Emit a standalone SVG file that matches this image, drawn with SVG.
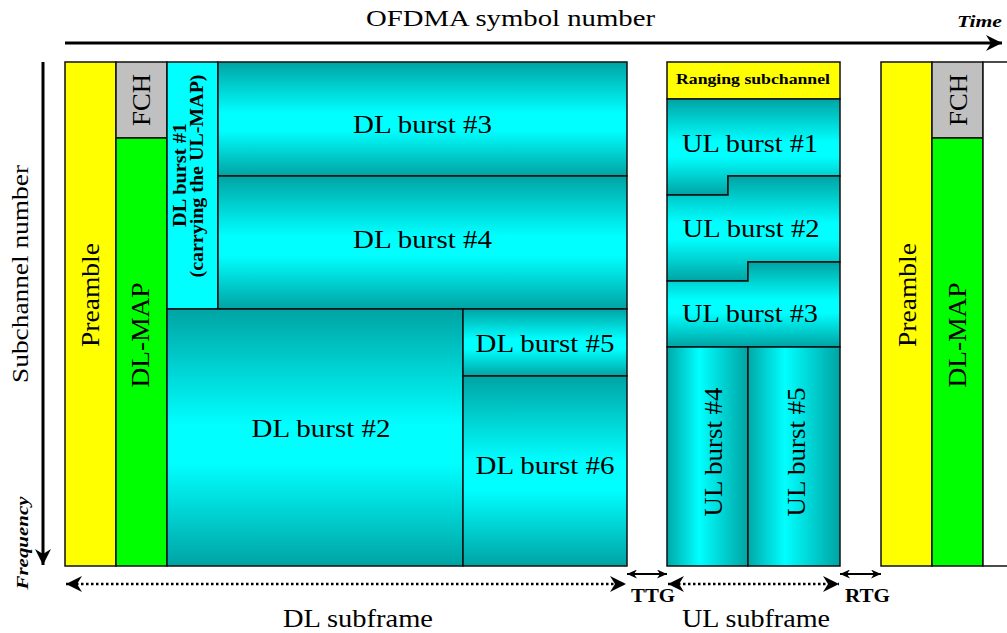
<svg xmlns="http://www.w3.org/2000/svg" width="1007" height="633" viewBox="0 0 1007 633">
  <defs>
    <linearGradient id="gV" x1="0" y1="0" x2="0" y2="1">
      <stop offset="0" stop-color="#00A3A3"/>
      <stop offset="0.45" stop-color="#00FFFF"/>
      <stop offset="0.6" stop-color="#00FFFF"/>
      <stop offset="1" stop-color="#00A3A3"/>
    </linearGradient>
    <linearGradient id="gH" x1="0" y1="0" x2="1" y2="0">
      <stop offset="0" stop-color="#00A8A8"/>
      <stop offset="0.4" stop-color="#00FFFF"/>
      <stop offset="1" stop-color="#00A3A3"/>
    </linearGradient>
    <marker id="headBig" viewBox="0 0 16 16" refX="16" refY="8" markerWidth="16" markerHeight="16" markerUnits="userSpaceOnUse" orient="auto-start-reverse">
      <path d="M0,0 L16,8 L0,16 L5,8 Z" fill="#000"/>
    </marker>
    <marker id="headSmall" viewBox="0 0 10 9" refX="10" refY="4.5" markerWidth="10" markerHeight="9" markerUnits="userSpaceOnUse" orient="auto-start-reverse">
      <path d="M0,0 L10,4.5 L0,9 L3,4.5 Z" fill="#000"/>
    </marker>
    <style>
      .cell { stroke: #111; stroke-width: 1.5; }
      .pre { fill: #FFFF00; }
      .fch { fill: #C0C0C0; }
      .map { fill: #00FF00; }
      .flat { fill: #00FFFF; }
      .gv { fill: url(#gV); }
      .gh { fill: url(#gH); }
      .t { font-family: "Liberation Serif", "Times New Roman", serif; fill: #000; }
      .big { font-size: 26px; }
      .b { font-weight: bold; }
      .bi { font-weight: bold; font-style: italic; }
      .mid { text-anchor: middle; }
      .axis { stroke: #000; stroke-width: 3; fill: none; }
      .dot { stroke: #000; stroke-width: 2.5; stroke-dasharray: 2.5 2.5; fill: none; }
      .gap { stroke: #000; stroke-width: 2; fill: none; }
    </style>
  </defs>

  <!-- axes and axis titles -->
  <g id="axes">
    <line class="axis" x1="65" y1="43" x2="1002" y2="43" marker-end="url(#headBig)"/>
    <line class="axis" x1="43" y1="62" x2="43" y2="565" marker-end="url(#headBig)"/>
    <text class="t mid" x="510.5" y="26" font-size="24" textLength="289" lengthAdjust="spacingAndGlyphs">OFDMA symbol number</text>
    <text class="t bi" x="957" y="27" font-size="17" textLength="45" lengthAdjust="spacingAndGlyphs">Time</text>
    <text class="t mid" transform="translate(28,274) rotate(-90)" font-size="24" textLength="218" lengthAdjust="spacingAndGlyphs">Subchannel number</text>
    <text class="t bi mid" transform="translate(28,543) rotate(-90)" font-size="17" textLength="93" lengthAdjust="spacingAndGlyphs">Frequency</text>
  </g>

  <!-- downlink subframe -->
  <g id="dl-preamble">
    <rect class="cell pre" x="65" y="62" width="51" height="504"/>
    <text class="t big mid" transform="translate(99,295) rotate(-90)" textLength="104" lengthAdjust="spacingAndGlyphs">Preamble</text>
  </g>
  <g id="dl-fch">
    <rect class="cell fch" x="116" y="62" width="51" height="76"/>
    <text class="t big mid" transform="translate(150,100) rotate(-90)" textLength="52" lengthAdjust="spacingAndGlyphs">FCH</text>
  </g>
  <g id="dl-map">
    <rect class="cell map" x="116" y="138" width="51" height="428"/>
    <text class="t big mid" transform="translate(149,335) rotate(-90)" textLength="105" lengthAdjust="spacingAndGlyphs">DL-MAP</text>
  </g>
  <g id="dl-burst-1">
    <rect class="cell flat" x="167" y="62" width="51" height="247"/>
    <text class="t b mid" transform="translate(186,175) rotate(-90)" font-size="18" textLength="104" lengthAdjust="spacingAndGlyphs">DL burst #1</text>
    <text class="t b mid" transform="translate(203,176) rotate(-90)" font-size="18" textLength="203" lengthAdjust="spacingAndGlyphs">(carrying the UL-MAP)</text>
  </g>
  <g id="dl-burst-3">
    <rect class="cell gv" x="218" y="62" width="409" height="114"/>
    <text class="t big mid" x="422.5" y="133" textLength="139" lengthAdjust="spacingAndGlyphs">DL burst #3</text>
  </g>
  <g id="dl-burst-4">
    <rect class="cell gv" x="218" y="176" width="409" height="133"/>
    <text class="t big mid" x="422.5" y="248" textLength="139" lengthAdjust="spacingAndGlyphs">DL burst #4</text>
  </g>
  <g id="dl-burst-2">
    <rect class="cell gv" x="167" y="309" width="296" height="257"/>
    <text class="t big mid" x="321" y="437" textLength="139" lengthAdjust="spacingAndGlyphs">DL burst #2</text>
  </g>
  <g id="dl-burst-5">
    <rect class="cell gv" x="463" y="309" width="164" height="67"/>
    <text class="t big mid" x="545" y="352" textLength="139" lengthAdjust="spacingAndGlyphs">DL burst #5</text>
  </g>
  <g id="dl-burst-6">
    <rect class="cell gv" x="463" y="376" width="164" height="190"/>
    <text class="t big mid" x="545" y="474" textLength="139" lengthAdjust="spacingAndGlyphs">DL burst #6</text>
  </g>

  <!-- uplink subframe -->
  <g id="ul-ranging">
    <rect class="cell pre" x="667" y="62" width="173" height="37"/>
    <text class="t b mid" x="753" y="84" font-size="14" textLength="154" lengthAdjust="spacingAndGlyphs">Ranging subchannel</text>
  </g>
  <g id="ul-burst-1">
    <path class="cell gv" d="M667,99 H840 V176 H728 V195 H667 Z"/>
    <text class="t big mid" x="750" y="152" textLength="136" lengthAdjust="spacingAndGlyphs">UL burst #1</text>
  </g>
  <g id="ul-burst-2">
    <path class="cell gv" d="M667,195 H728 V176 H840 V262 H748 V281 H667 Z"/>
    <text class="t big mid" x="751" y="237" textLength="137" lengthAdjust="spacingAndGlyphs">UL burst #2</text>
  </g>
  <g id="ul-burst-3">
    <path class="cell gv" d="M667,281 H748 V262 H840 V347 H667 Z"/>
    <text class="t big mid" x="750" y="322" textLength="136" lengthAdjust="spacingAndGlyphs">UL burst #3</text>
  </g>
  <g id="ul-burst-4">
    <rect class="cell gh" x="667" y="347" width="81" height="219"/>
    <text class="t big mid" transform="translate(722,452) rotate(-90)" textLength="129" lengthAdjust="spacingAndGlyphs">UL burst #4</text>
  </g>
  <g id="ul-burst-5">
    <rect class="cell gh" x="748" y="347" width="92" height="219"/>
    <text class="t big mid" transform="translate(805,452) rotate(-90)" textLength="129" lengthAdjust="spacingAndGlyphs">UL burst #5</text>
  </g>

  <!-- start of the next frame -->
  <g id="next-preamble">
    <rect class="cell pre" x="881" y="62" width="51" height="504"/>
    <text class="t big mid" transform="translate(916,295) rotate(-90)" textLength="104" lengthAdjust="spacingAndGlyphs">Preamble</text>
  </g>
  <g id="next-fch">
    <rect class="cell fch" x="932" y="62" width="51" height="76"/>
    <text class="t big mid" transform="translate(967,100) rotate(-90)" textLength="52" lengthAdjust="spacingAndGlyphs">FCH</text>
  </g>
  <g id="next-map">
    <rect class="cell map" x="932" y="138" width="51" height="428"/>
    <text class="t big mid" transform="translate(966,335) rotate(-90)" textLength="105" lengthAdjust="spacingAndGlyphs">DL-MAP</text>
  </g>
  <g id="next-rest">
    <rect class="cell" x="983" y="62" width="40" height="504" fill="#fff"/>
  </g>

  <!-- subframe spans and transition gaps -->
  <g id="connectors">
    <line class="dot" x1="66" y1="584" x2="626" y2="584" marker-start="url(#headBig)" marker-end="url(#headBig)"/>
    <line class="dot" x1="668" y1="584" x2="839" y2="584" marker-start="url(#headBig)" marker-end="url(#headBig)"/>
    <line class="gap" x1="627" y1="574" x2="667" y2="574" marker-start="url(#headSmall)" marker-end="url(#headSmall)"/>
    <line class="gap" x1="840" y1="574" x2="881" y2="574" marker-start="url(#headSmall)" marker-end="url(#headSmall)"/>
  </g>
  <g id="span-labels">
    <text class="t b mid" x="653" y="602" font-size="18" textLength="44" lengthAdjust="spacingAndGlyphs">TTG</text>
    <text class="t b mid" x="867.5" y="602" font-size="18" textLength="45" lengthAdjust="spacingAndGlyphs">RTG</text>
    <text class="t big mid" x="358" y="627" textLength="150" lengthAdjust="spacingAndGlyphs">DL subframe</text>
    <text class="t big mid" x="756" y="627" textLength="148" lengthAdjust="spacingAndGlyphs">UL subframe</text>
  </g>
</svg>
